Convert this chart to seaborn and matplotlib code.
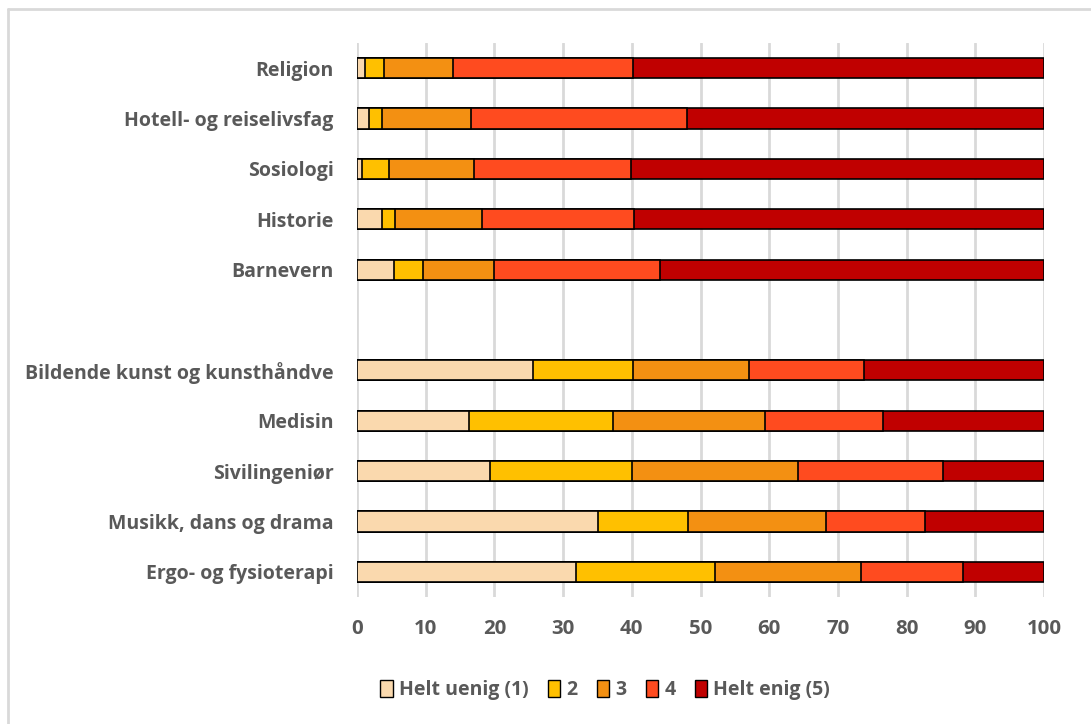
import numpy as np
import pandas as pd
import matplotlib
matplotlib.use("Agg")
import matplotlib.pyplot as plt
import seaborn as sns
from matplotlib.patches import Patch
from matplotlib.lines import Line2D

# Data (percent)
fields = ["Religion", "Hotell- og reiselivsfag", "Sosiologi", "Historie", "Barnevern",
          " ",
          "Bildende kunst og kunsthåndve", "Medisin", "Sivilingeniør",
          "Musikk, dans og drama", "Ergo- og fysioterapi"]
levels = ["Helt uenig (1)", "2", "3", "4", "Helt enig (5)"]
helt_uenig = [1.2, 1.7, 0.8, 3.7, 5.4, None, 25.6, 16.3, 19.4, 35.1, 31.9]
val_2 = [2.8, 1.9, 3.9, 1.9, 4.2, None, 14.6, 20.9, 20.6, 13.1, 20.2]
val_3 = [10.0, 13.0, 12.4, 12.6, 10.3, None, 16.8, 22.2, 24.2, 20.0, 21.3]
val_4 = [26.2, 31.5, 22.8, 22.1, 24.2, None, 16.8, 17.2, 21.1, 14.5, 14.8]
helt_enig = [59.8, 51.9, 60.1, 59.7, 55.9, None, 26.2, 23.4, 14.7, 17.3, 11.8]
colors = ["#FAD9AE", "#FFC000", "#F39012", "#FF4B1F", "#C00000"]

TEXT = "#595959"
GRID = "#D9D9D9"

df = pd.DataFrame({"field": fields, levels[0]: helt_uenig, levels[1]: val_2,
                   levels[2]: val_3, levels[3]: val_4, levels[4]: helt_enig})
df = df[df["field"] != " "]
cum = df[levels].cumsum(axis=1)
cum["field"] = df["field"]

sns.set_style("white")
plt.rcParams["font.family"] = ["Open Sans", "DejaVu Sans"]
plt.rcParams["font.weight"] = "bold"

fig = plt.figure(figsize=(10.91, 7.24), dpi=100)
ax = fig.add_axes([357 / 1091, 1 - 597 / 724, (1044 - 357) / 1091, (597 - 43) / 724])

# stacked bars: draw cumulative totals from the largest down
for lvl, col in reversed(list(zip(levels, colors))):
    sns.barplot(data=cum, x=lvl, y="field", order=fields, color=col, orient="h",
                width=0.4, edgecolor="black", linewidth=1.2, saturation=1, ax=ax)

ax.set_xlim(0, 100)
ax.set_ylim(10.5, -0.5)
ax.set_xticks(range(0, 101, 10))
ax.xaxis.grid(True, color=GRID, linewidth=2)
ax.set_axisbelow(True)
for s in ax.spines.values():
    s.set_visible(False)
ax.set_xlabel("")
ax.set_ylabel("")
ax.tick_params(axis="x", length=0, pad=16, labelsize=14.7, labelcolor=TEXT)
ax.tick_params(axis="y", length=0, pad=17, labelsize=14, labelcolor=TEXT)
for t in ax.get_xticklabels() + ax.get_yticklabels():
    t.set_fontweight("bold")

handles = [Patch(facecolor=c, edgecolor="black", linewidth=1) for c in colors]
leg = fig.legend(handles, levels, loc="center", bbox_to_anchor=(605 / 1091, 1 - 690 / 724),
                 ncol=5, frameon=False, handlelength=0.65, handleheight=1.0,
                 handletextpad=0.3, columnspacing=1.0, fontsize=14)
for t in leg.get_texts():
    t.set_color(TEXT)
    t.set_fontweight("bold")

# chart area border (top and left visible)
fig.add_artist(Line2D([8 / 1091, 1], [1 - 9 / 724, 1 - 9 / 724], color=GRID, lw=2,
                      transform=fig.transFigure))
fig.add_artist(Line2D([8 / 1091, 8 / 1091], [0, 1 - 9 / 724], color=GRID, lw=2,
                      transform=fig.transFigure))

fig.savefig("out.png", dpi=100)
